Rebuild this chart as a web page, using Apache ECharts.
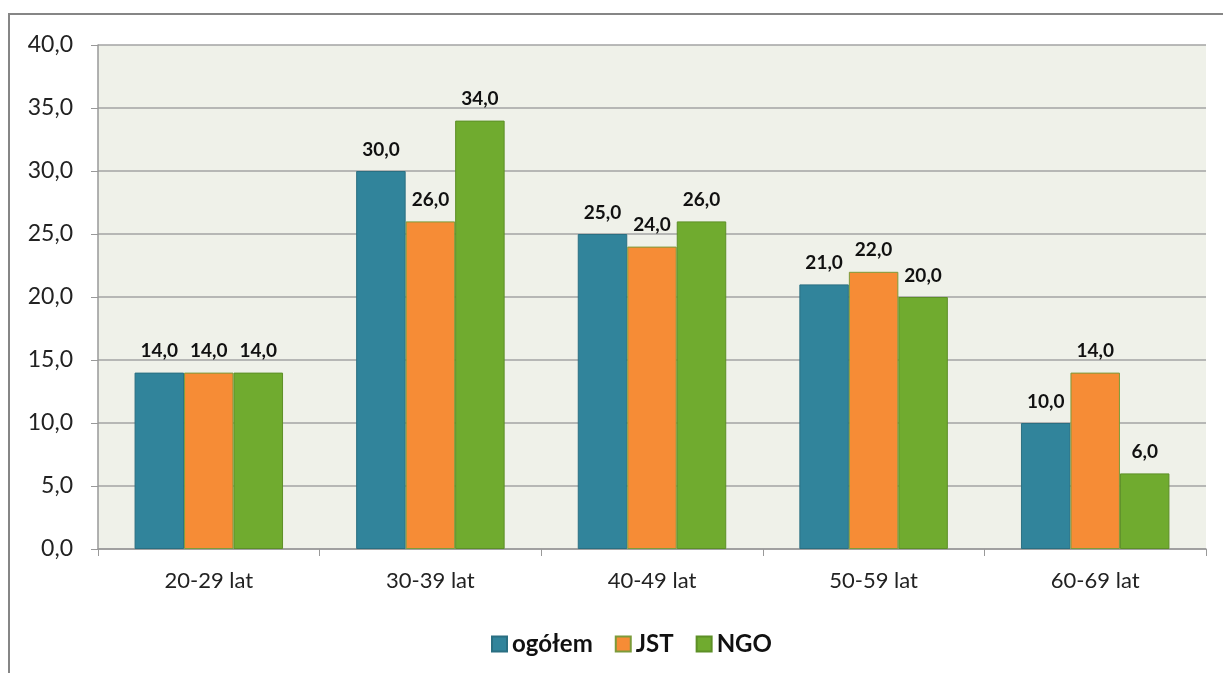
<!DOCTYPE html>
<html>
<head>
<meta charset="utf-8">
<script src="https://cdn.jsdelivr.net/npm/echarts@6/dist/echarts.min.js"></script>
<style>
	html, body { margin: 0; padding: 0; background: #fff; }
	#chart { width: 1223px; height: 673px; }
</style>
</head>
<body>
<div id="chart"></div>
<script>
// kategorie wiekowe
var categories = ['20-29 lat', '30-39 lat', '40-49 lat', '50-59 lat', '60-69 lat'];
var ogolem = [14, 30, 25, 21, 10];
var jst = [14, 26, 24, 22, 14];
var ngo = [14, 34, 26, 20, 6];
var seriesNames = ['ogółem', 'JST', 'NGO'];

function fmt(v) {
	return Number(v).toFixed(1).replace('.', ',');
}

function makeSeries(name, data, color, border) {
	return {
		name: name,
		type: 'bar',
		data: data,
		barGap: '0%',
		barCategoryGap: '33%',
		itemStyle: {
			color: color,
			borderColor: border,
			borderWidth: 1
		},
		label: {
			show: true,
			position: 'top',
			distance: 12,
			color: '#111',
			fontWeight: 'bold',
			fontSize: 19,
			fontFamily: 'Lato',
			formatter: function(p) { return fmt(p.value); }
		}
	};
}

var myChart = echarts.init(document.getElementById('chart'));
myChart.setOption({
	animation: false,
	textStyle: { fontFamily: 'Lato' },
	graphic: [{
		type: 'rect',
		shape: { x: 9, y: 14, width: 1300, height: 700 },
		style: { fill: 'none', stroke: '#868686', lineWidth: 2 },
		z: -1
	}],
	grid: {
		left: 98,
		right: 17,
		top: 45,
		bottom: 124,
		show: true,
		backgroundColor: '#eff1e9',
		borderWidth: 0
	},
	legend: {
		top: 627,
		left: 486,
		itemWidth: 15,
		itemHeight: 15,
		itemGap: 22,
		icon: 'rect',
		textStyle: { fontSize: 24, fontWeight: 'bold', color: '#111', fontFamily: 'Lato' },
		data: seriesNames
	},
	xAxis: {
		type: 'category',
		data: categories,
		axisLine: { lineStyle: { color: '#999', width: 1.5 } },
		axisTick: { show: true, length: 7, lineStyle: { color: '#999' } },
		axisLabel: { fontSize: 22, color: '#222', margin: 21, fontFamily: 'Lato' }
	},
	yAxis: {
		type: 'value',
		min: 0,
		max: 40,
		interval: 5,
		axisLine: { show: true, lineStyle: { color: '#999', width: 1.5 } },
		axisTick: { show: true, length: 7, lineStyle: { color: '#999' } },
		splitLine: { lineStyle: { color: '#a3a3a3', width: 1.5 } },
		axisLabel: {
			fontSize: 23,
			color: '#222',
			margin: 25,
			fontFamily: 'Lato',
			formatter: function(v) { return fmt(v); }
		}
	},
	series: [
		makeSeries(seriesNames[0], ogolem, '#31849b', '#2a6f82'),
		makeSeries(seriesNames[1], jst, '#f68c36', '#7c9b3a'),
		makeSeries(seriesNames[2], ngo, '#70ab2f', '#5d8f27')
	]
});
</script>
</body>
</html>
